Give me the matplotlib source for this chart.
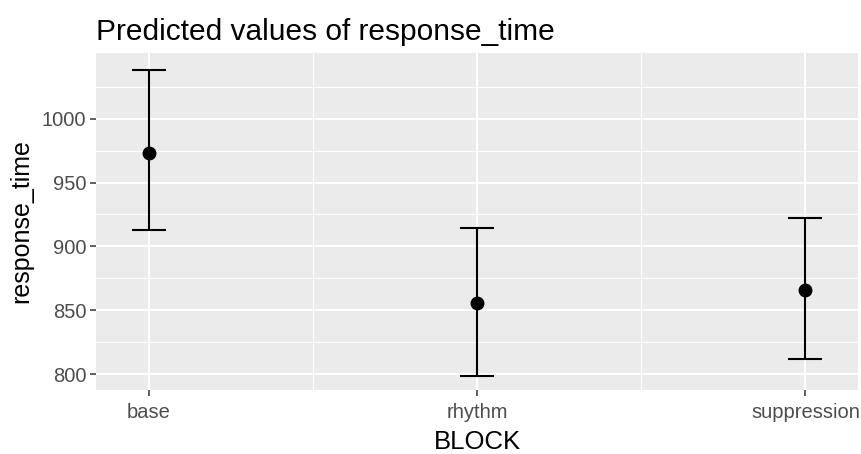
import matplotlib.pyplot as plt
import numpy as np

blocks = ["base", "rhythm", "suppression"]
predicted = [973.5, 855.3, 865.8]
conf_low = [913.2, 798.6, 811.8]
conf_high = [1038.3, 914.4, 922.5]

plt.rcParams['font.family'] = ['Liberation Sans', 'DejaVu Sans']

fig = plt.figure(figsize=(8.61, 4.54), dpi=100)
ax = fig.add_axes([96/861, 64/454, (858-96)/861, (390-53)/454])

x = np.arange(1, len(blocks) + 1)
pred = np.array(predicted)
yerr = [pred - np.array(conf_low), np.array(conf_high) - pred]

ax.set_facecolor('#EBEBEB')
ax.errorbar(x, pred, yerr=yerr, fmt='o', color='black', ms=9,
            elinewidth=1.5, capsize=12, capthick=1.5, zorder=3)

ax.set_xlim(0.84, 3.16)
ax.set_ylim(787.5, 1051.5)
ax.set_xticks(x)
ax.set_xticklabels(blocks)
ax.set_yticks([800, 850, 900, 950, 1000])
ax.set_xticks([1.5, 2.5], minor=True)
ax.set_yticks([825, 875, 925, 975, 1025], minor=True)

ax.grid(which='major', color='white', linewidth=1.4)
ax.grid(which='minor', color='white', linewidth=0.7)
ax.set_axisbelow(True)
for s in ax.spines.values():
    s.set_visible(False)

ax.tick_params(which='major', length=4, width=1.1, color='#333333',
               labelcolor='#4D4D4D', labelsize=14.5, pad=3)
ax.tick_params(axis='x', pad=5)
ax.tick_params(which='minor', length=0)

ax.set_xlabel('BLOCK', fontsize=18.5, labelpad=6)
ax.set_ylabel('response_time', fontsize=18, labelpad=6)
ax.set_title('Predicted values of response_time', fontsize=21.5, loc='left', pad=9)

fig.savefig('out.png', dpi=100)
